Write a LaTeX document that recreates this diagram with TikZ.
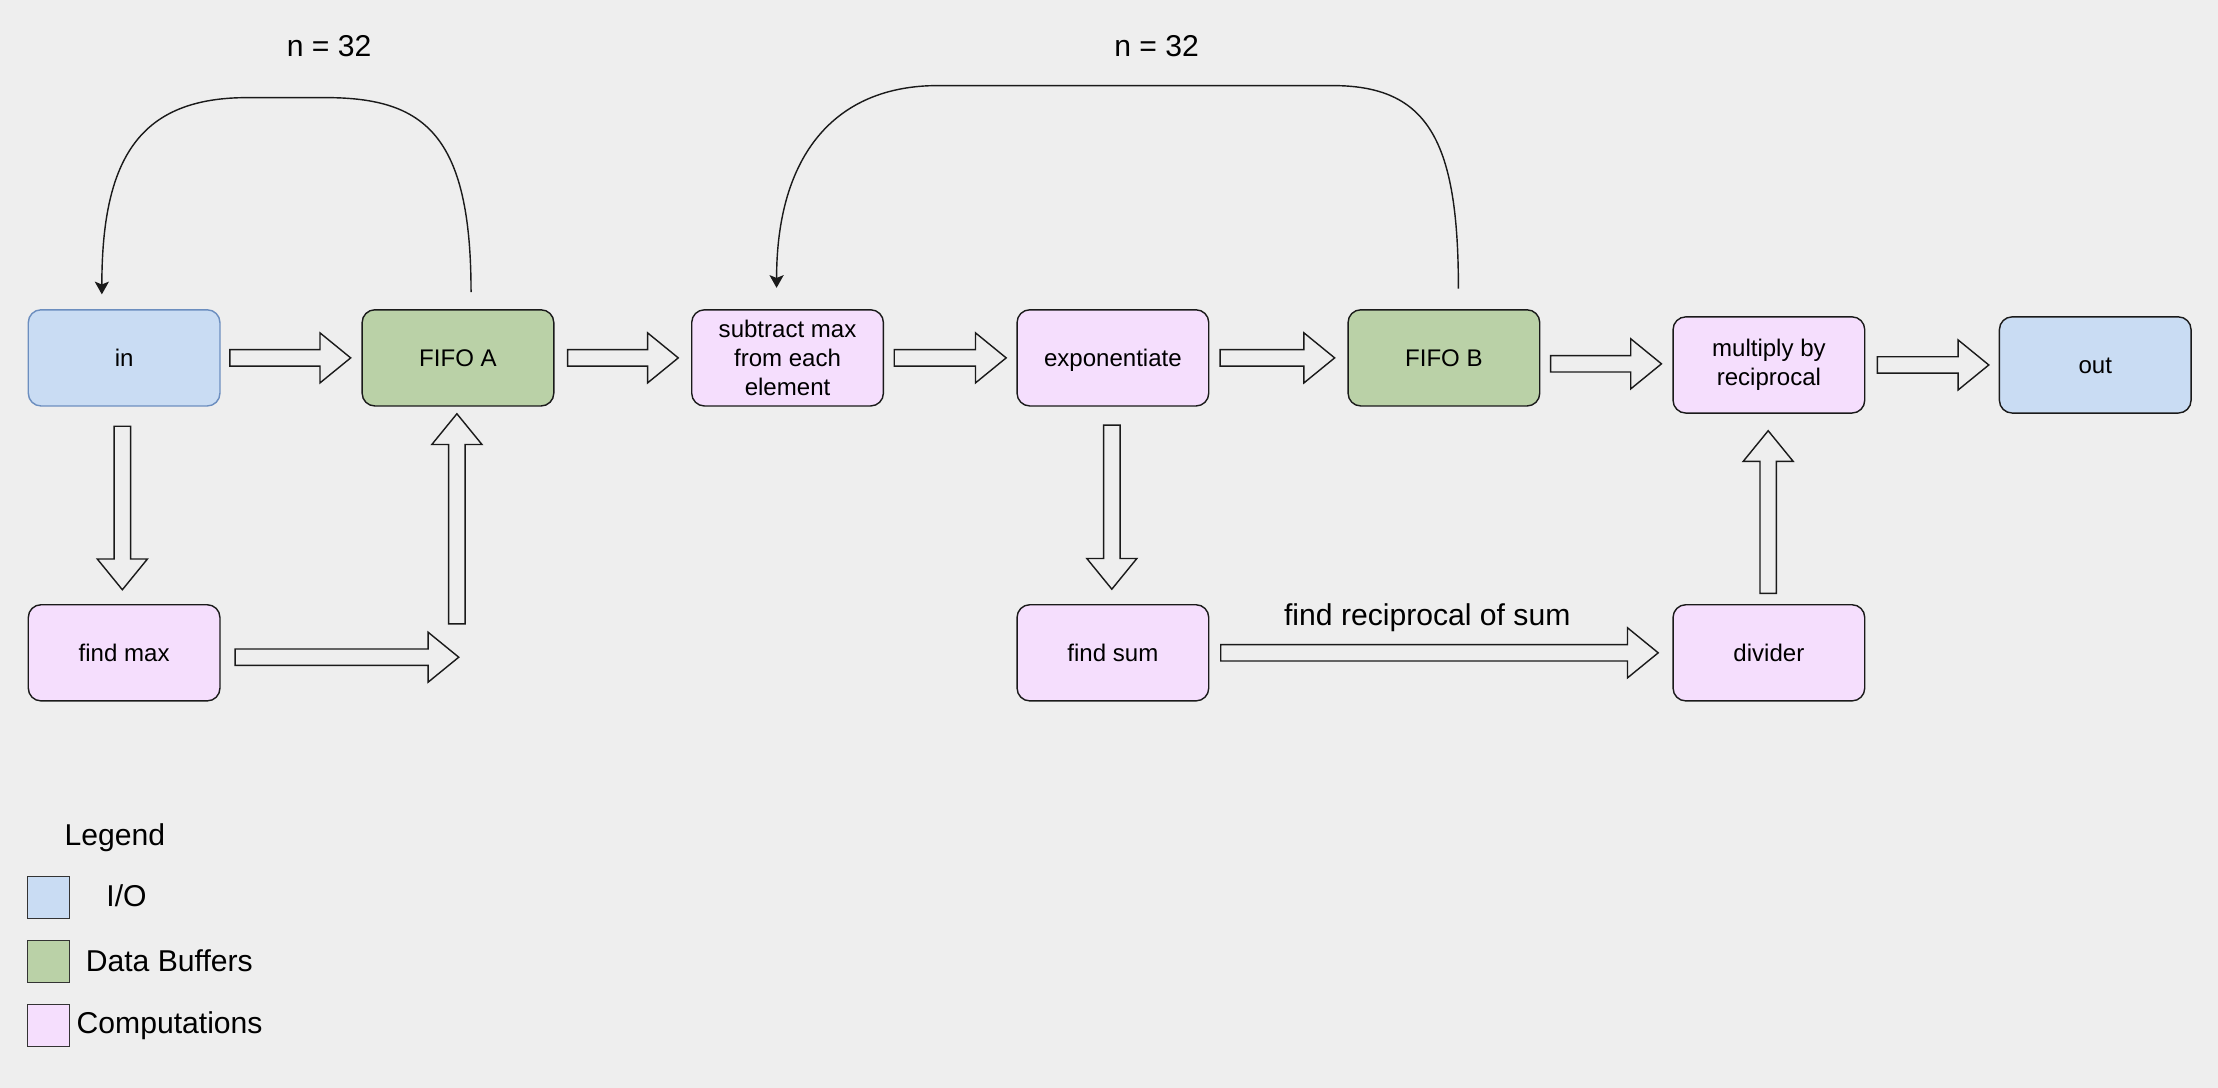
\documentclass[tikz,border=0pt]{standalone}
\usepackage{fontspec}
\setmainfont{Liberation Sans}
\usepackage{xcolor}
\usetikzlibrary{calc,arrows.meta}

\definecolor{bgcol}{HTML}{EEEEEE}
\definecolor{iofill}{HTML}{C9DCF3}
\definecolor{ioline}{HTML}{6C8EBF}
\definecolor{buffill}{HTML}{BAD1A7}
\definecolor{compfill}{HTML}{F5DEFD}
\definecolor{edgecol}{HTML}{1A1A1A}
\definecolor{legline}{HTML}{333333}

% hollow block arrow from #1 to #2
\newcommand{\flowarrow}[2]{%
  \path (#1) coordinate (fa-s) (#2) coordinate (fa-e);
  \draw[flow] let \p1=(fa-s), \p2=(fa-e),
      \n1={atan2(\y2-\y1,\x2-\x1)}, \n2={veclen(\x2-\x1,\y2-\y1)} in
    (\p1) ++(\n1-90:5.8) -- ++(\n1:\n2-21.7) -- ++(\n1-90:11.9) -- (\p2)
    -- ($(\p1)+(\n1:\n2-21.7)+(\n1+90:17.7)$) -- ++(\n1-90:11.9)
    -- ($(\p1)+(\n1+90:5.8)$) -- cycle;
}

\begin{document}
\begin{tikzpicture}[x=1pt, y=1pt,
    box/.style={draw=edgecol, line width=1pt, rounded corners=9pt,
      minimum width=135.5pt, minimum height=68pt, inner sep=0pt, align=center,
      font=\fontsize{17}{20.4}\selectfont, text height=15.3pt, text depth=3.5pt},
    multiline/.style={text height={}, text depth={}},
    iobox/.style={box, fill=iofill},
    bufbox/.style={box, fill=buffill},
    compbox/.style={box, fill=compfill},
    flow/.style={draw=edgecol, line width=1pt, fill=bgcol},
    loopline/.style={draw=edgecol, line width=1pt,
      -{Stealth[length=9pt, width=10pt, inset=2pt]}},
    bigtext/.style={inner sep=0pt, font=\fontsize{21.3}{25.6}\selectfont},
    legsq/.style={draw=legline, line width=1pt, minimum size=30pt, inner sep=0pt}]

    \fill[bgcol] (0,0) rectangle (1568,-769);
    \useasboundingbox (0,0) rectangle (1568,-769);

    % top row
    \node[iobox, draw=ioline] (in) at (87.75,-253) {in};
    \node[bufbox] (fifoA) at (323.75,-253) {FIFO A};
    \node[compbox, multiline] (sub) at (556.75,-253) {subtract max\\from each\\element};
    \node[compbox] (expo) at (786.75,-253) {exponentiate};
    \node[bufbox] (fifoB) at (1020.75,-253) {FIFO B};
    \node[compbox, multiline] (mult) at (1250.5,-258) {multiply by\\reciprocal};
    \node[iobox] (out) at (1481.2,-258) {out};

    % bottom row
    \node[compbox] (findmax) at (87.75,-461.5) {find max};
    \node[compbox] (findsum) at (786.75,-461.5) {find sum};
    \node[compbox] (divider) at (1250.5,-461.5) {divider};

    % block arrows
    \flowarrow{$(in.east)+(6.5,0)$}{$(fifoA.west)+(-7.6,0)$}
    \flowarrow{$(fifoA.east)+(9.3,0)$}{$(sub.west)+(-9,0)$}
    \flowarrow{$(sub.east)+(7.2,0)$}{$(expo.west)+(-7.2,0)$}
    \flowarrow{$(expo.east)+(7.5,0)$}{$(fifoB.west)+(-9,0)$}
    \flowarrow{$(fifoB.east)+(7.2,-4.2)$}{$(mult.west)+(-7.7,0.8)$}
    \flowarrow{$(mult.east)+(8.4,0)$}{$(out.west)+(-7,0)$}
    \flowarrow{$(in.south)+(-1.25,-13.8)$}{$(findmax.north)+(-1.25,10.1)$}
    \flowarrow{$(expo.south)+(-0.75,-13)$}{$(findsum.north)+(-0.75,10.5)$}
    \flowarrow{$(findsum.east)+(8,0)$}{$(divider.west)+(-10,0)$}
    \flowarrow{$(divider.north)+(-0.5,7.5)$}{$(mult.south)+(-0.5,-12)$}

    % max into FIFO A
    \coordinate (maxout) at (324.3,-464.6);
    \coordinate (maxup) at (323,-441);
    \flowarrow{$(findmax.east)+(10.2,-3.1)$}{maxout}
    \flowarrow{maxup}{$(fifoA.south)+(-0.75,-5)$}

    % loops
    \coordinate (loopA-s) at ($(fifoA.north)+(9.25,12)$);
    \coordinate (loopA-e) at ($(in.north)+(-15.75,10.4)$);
    \draw[loopline] (loopA-s) .. controls (333,-95) and (300,-69) .. (230,-69)
        -- (175,-69) .. controls (100,-69) and (72,-110) .. (loopA-e);
    \coordinate (loopB-s) at ($(fifoB.north)+(10.25,14.4)$);
    \coordinate (loopB-e) at ($(sub.north)+(-7.75,15)$);
    \draw[loopline] (loopB-s) .. controls (1031,-100) and (1010,-60.5) .. (942,-60.5)
        -- (663,-60.5) .. controls (590,-60.5) and (549,-110) .. (loopB-e);

    \node[bigtext] (nA) at (232.7,-32.7) {n = 32};
    \node[bigtext] (nB) at (817.7,-32.7) {n = 32};
    \node[bigtext] (recip) at (1009,-436.5) {find reciprocal of sum};

    % legend
    \node[bigtext, anchor=base west] (legend) at (45.5,-598) {Legend};
    \node[legsq, fill=iofill] (legIO) at (34.3,-634.5) {};
    \node[legsq, fill=buffill] (legBuf) at (34.3,-679.75) {};
    \node[legsq, fill=compfill] (legComp) at (34.3,-725) {};
    \node[bigtext, anchor=base west] (legIOtext) at (75,-641) {I/O};
    \node[bigtext, anchor=base west] (legBuftext) at (60.5,-686.5) {Data Buffers};
    \node[bigtext, anchor=base west] (legComptext) at (54,-730.5) {Computations};
\end{tikzpicture}
\end{document}
